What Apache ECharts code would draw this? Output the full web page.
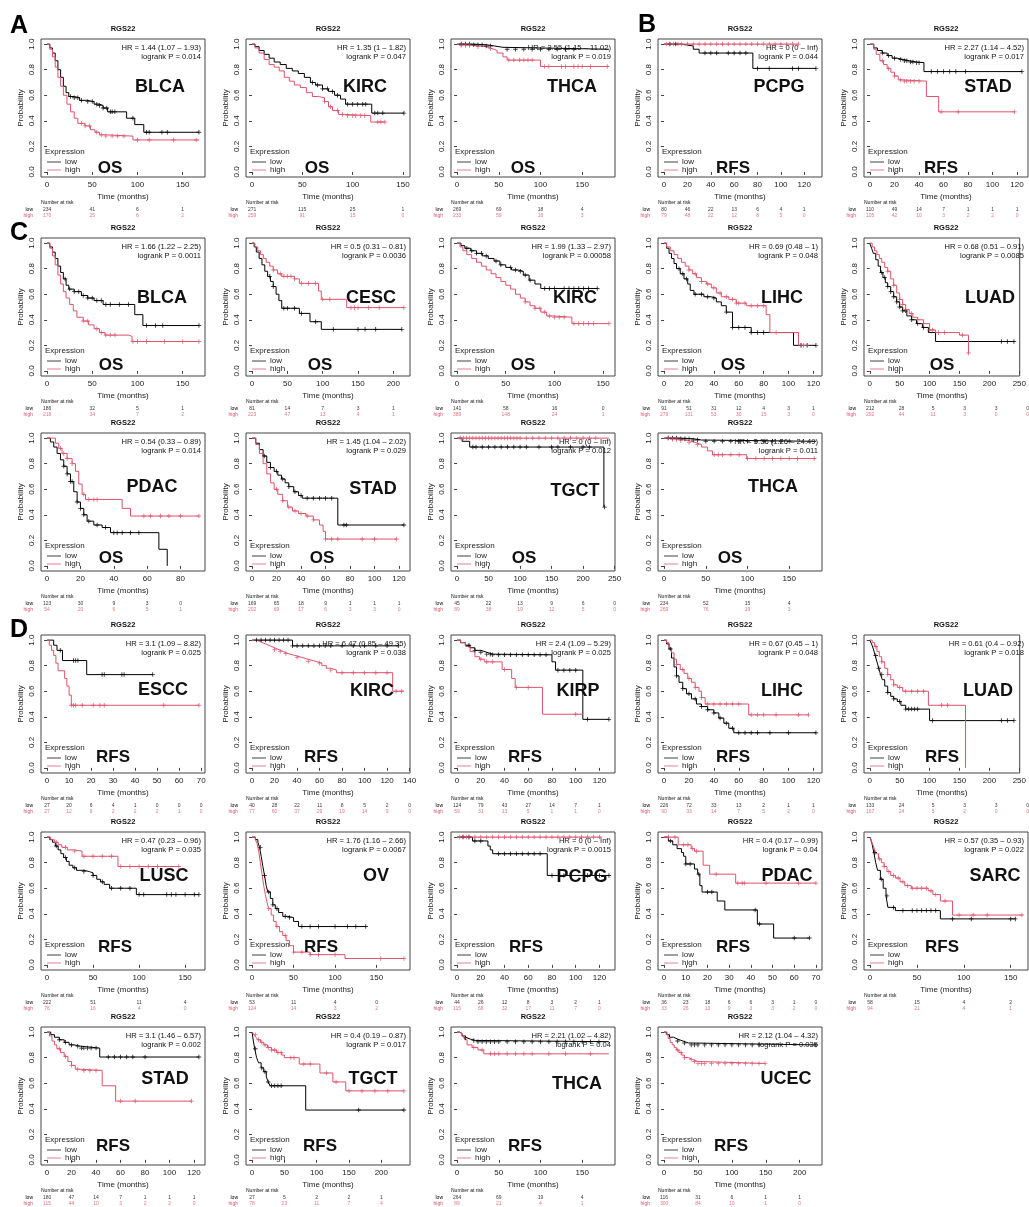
<!DOCTYPE html>
<html><head><meta charset="utf-8">
<script src="https://cdn.jsdelivr.net/npm/echarts@6/dist/echarts.min.js"></script>
<style>html,body{margin:0;padding:0;background:#fff}#c{width:1029px;height:1207px}</style>
</head><body><div id="c"></div>
<script>
// ---------------- DATA ----------------
const Y_TICKS = [0, 0.2, 0.4, 0.6, 0.8, 1.0];

// A BLCA OS
const A_BLCA_ticks=[0,50,100,150];
const A_BLCA_low=[[0,1],[3,0.97],[6,0.93],[9,0.87],[12,0.8],[15,0.74],[18,0.67],[21,0.62],[24,0.59],[30,0.58],[36,0.56],[44,0.55],[52,0.53],[58,0.52],[62,0.5],[67,0.47],[88,0.42],[97,0.37],[107,0.31],[168,0.31]];
const A_BLCA_high=[[0,1],[3,0.96],[6,0.9],[9,0.82],[12,0.74],[15,0.67],[18,0.6],[22,0.53],[26,0.47],[30,0.42],[34,0.38],[42,0.36],[48,0.33],[53,0.31],[58,0.29],[65,0.28],[95,0.25],[168,0.25]];
const A_BLCA_lowCens=[26,30,34,38,45,50,55,58,62,66,70,72,75,95,110,113,127,133,168];
const A_BLCA_highCens=[38,42,47,55,60,65,72,78,85,100,113,140,165];
const A_BLCA_riskLow=[234,41,6,1];
const A_BLCA_riskHigh=[170,25,6,2];
const A_BLCA_stats=['HR = 1.44 (1.07 – 1.93)','logrank P = 0.014'];

// A KIRC OS
const A_KIRC_ticks=[0,50,100,150];
const A_KIRC_low=[[0,1],[3,0.98],[7,0.95],[12,0.92],[17,0.89],[22,0.86],[28,0.84],[34,0.81],[40,0.79],[46,0.77],[52,0.74],[58,0.7],[63,0.68],[70,0.65],[76,0.63],[82,0.6],[88,0.57],[93,0.53],[119,0.46],[151,0.46]];
const A_KIRC_high=[[0,1],[3,0.97],[7,0.93],[12,0.88],[17,0.84],[22,0.82],[27,0.79],[32,0.74],[37,0.71],[42,0.68],[48,0.66],[54,0.62],[60,0.59],[66,0.58],[72,0.55],[76,0.51],[80,0.48],[86,0.45],[92,0.44],[118,0.39],[132,0.39]];
const A_KIRC_lowCens=[60,65,70,75,80,85,95,100,105,110,113,122,125,130,151];
const A_KIRC_highCens=[72,78,85,90,95,100,103,108,112,125,128,132];
const A_KIRC_riskLow=[271,115,25,1];
const A_KIRC_riskHigh=[259,91,15,0];
const A_KIRC_stats=['HR = 1.35 (1 – 1.82)','logrank P = 0.047'];

// A THCA OS
const A_THCA_ticks=[0,50,100,150];
const A_THCA_low=[[0,1],[20,0.995],[35,0.985],[45,0.975],[55,0.96],[182,0.96]];
const A_THCA_high=[[0,1],[5,0.99],[20,0.98],[35,0.965],[42,0.95],[48,0.93],[55,0.9],[60,0.875],[100,0.825],[182,0.825]];
const A_THCA_lowCens=[5,10,15,20,25,30,35,40,60,70,80,90,100,110,120,130,140];
const A_THCA_highCens=[5,10,15,25,40,62,68,75,80,85,90,105,110,125,130,140,145,150,160,180];
const A_THCA_riskLow=[269,69,18,4];
const A_THCA_riskHigh=[233,59,16,3];
const A_THCA_stats=['HR = 3.55 (1.15 – 11.02)','logrank P = 0.019'];

// B PCPG RFS
const B_PCPG_ticks=[0,20,40,60,80,100,120];
const B_PCPG_low=[[0,1],[15,0.985],[25,0.96],[30,0.93],[76,0.81],[130,0.81]];
const B_PCPG_high=[[0,1],[115,1]];
const B_PCPG_lowCens=[5,10,35,40,45,55,60,65,70,80,90,110,115,130];
const B_PCPG_highCens=[2,5,8,12,15,20,25,30,35,40,45,50,55,60,65,70,75,80,85,90,95,100,105,110,115];
const B_PCPG_riskLow=[80,46,22,13,6,4,1];
const B_PCPG_riskHigh=[79,48,22,12,8,5,0];
const B_PCPG_stats=['HR = 0 (0 – Inf)','logrank P = 0.044'];

// B STAD RFS
const B_STAD_ticks=[0,20,40,60,80,100,120];
const B_STAD_low=[[0,1],[3,0.97],[6,0.95],[10,0.93],[14,0.91],[18,0.89],[22,0.88],[27,0.87],[32,0.86],[38,0.855],[44,0.785],[124,0.785]];
const B_STAD_high=[[0,1],[3,0.96],[5,0.92],[8,0.87],[11,0.84],[14,0.81],[17,0.78],[20,0.75],[23,0.72],[26,0.71],[46,0.59],[56,0.47],[118,0.47]];
const B_STAD_lowCens=[10,15,20,25,28,30,33,35,38,40,50,55,60,65,70,78,124];
const B_STAD_highCens=[10,15,20,25,28,30,33,36,40,58,72,118];
const B_STAD_riskLow=[110,49,14,7,1,1,1];
const B_STAD_riskHigh=[105,42,10,3,2,2,0];
const B_STAD_stats=['HR = 2.27 (1.14 – 4.52)','logrank P = 0.017'];

// C BLCA OS
const C_BLCA_ticks=[0,50,100,150];
const C_BLCA_low=[[0,1],[3,0.97],[6,0.93],[9,0.88],[12,0.82],[15,0.77],[18,0.72],[21,0.67],[24,0.64],[30,0.62],[38,0.59],[45,0.57],[52,0.55],[62,0.52],[97,0.44],[106,0.355],[168,0.355]];
const C_BLCA_high=[[0,1],[3,0.96],[6,0.9],[9,0.83],[12,0.75],[15,0.68],[18,0.62],[21,0.57],[25,0.52],[29,0.47],[33,0.42],[40,0.39],[46,0.36],[52,0.33],[58,0.3],[64,0.28],[90,0.27],[94,0.23],[168,0.23]];
const C_BLCA_lowCens=[20,25,30,35,40,45,50,55,60,65,70,80,90,110,120,128,168];
const C_BLCA_highCens=[40,45,55,60,65,70,75,95,100,110,130,150,168];
const C_BLCA_riskLow=[186,32,5,1];
const C_BLCA_riskHigh=[218,34,7,2];
const C_BLCA_stats=['HR = 1.66 (1.22 – 2.25)','logrank P = 0.0011'];

// C CESC OS
const C_CESC_ticks=[0,50,100,150,200];
const C_CESC_low=[[0,1],[3,0.97],[6,0.93],[10,0.88],[14,0.83],[18,0.78],[22,0.74],[26,0.7],[30,0.66],[34,0.6],[38,0.55],[42,0.49],[67,0.45],[82,0.385],[98,0.325],[212,0.325]];
const C_CESC_high=[[0,1],[4,0.97],[8,0.94],[12,0.91],[16,0.88],[20,0.85],[25,0.82],[30,0.79],[36,0.76],[42,0.74],[60,0.72],[67,0.685],[94,0.625],[98,0.56],[134,0.495],[215,0.495]];
const C_CESC_lowCens=[25,30,45,50,60,70,90,115,150,160,175,212];
const C_CESC_highCens=[30,40,45,50,55,60,70,80,90,100,110,140,145,150,165,180,215];
const C_CESC_riskLow=[81,14,7,3,1];
const C_CESC_riskHigh=[223,47,13,4,1];
const C_CESC_stats=['HR = 0.5 (0.31 – 0.81)','logrank P = 0.0036'];

// C KIRC OS
const C_KIRC_ticks=[0,50,100,150];
const C_KIRC_low=[[0,1],[4,0.98],[8,0.96],[14,0.94],[20,0.92],[26,0.9],[32,0.88],[38,0.86],[44,0.83],[50,0.81],[56,0.79],[62,0.78],[68,0.75],[74,0.71],[80,0.68],[86,0.645],[144,0.645]];
const C_KIRC_high=[[0,1],[3,0.97],[6,0.94],[10,0.91],[15,0.88],[20,0.85],[25,0.82],[30,0.79],[35,0.76],[40,0.73],[45,0.7],[50,0.67],[55,0.64],[60,0.6],[65,0.57],[70,0.54],[75,0.51],[80,0.49],[86,0.46],[92,0.43],[98,0.42],[118,0.37],[156,0.37]];
const C_KIRC_lowCens=[10,15,20,25,30,40,45,55,60,65,70,75,90,95,100,110,115,120,125,130,135,144];
const C_KIRC_highCens=[70,80,85,90,95,100,105,110,120,125,130,135,140,156];
const C_KIRC_riskLow=[141,58,16,0];
const C_KIRC_riskHigh=[389,148,24,1];
const C_KIRC_stats=['HR = 1.99 (1.33 – 2.97)','logrank P = 0.00058'];

// C LIHC OS
const C_LIHC_ticks=[0,20,40,60,80,100,120];
const C_LIHC_low=[[0,1],[2,0.96],[4,0.92],[6,0.88],[8,0.84],[10,0.8],[13,0.76],[16,0.72],[19,0.68],[21,0.63],[24,0.6],[32,0.58],[38,0.57],[42,0.54],[46,0.51],[50,0.46],[55,0.34],[70,0.3],[104,0.2],[122,0.2]];
const C_LIHC_high=[[0,1],[2,0.97],[5,0.94],[8,0.91],[11,0.88],[14,0.85],[17,0.82],[20,0.79],[23,0.76],[26,0.73],[30,0.7],[34,0.68],[38,0.65],[42,0.61],[46,0.58],[52,0.56],[58,0.53],[66,0.51],[82,0.44],[85,0.3],[108,0.2],[115,0.2]];
const C_LIHC_lowCens=[12,15,18,25,30,35,40,50,55,60,65,70,75,80,110,115,122];
const C_LIHC_highCens=[20,25,30,35,40,45,50,55,58,60,65,70,75,80,90,110,112,115];
const C_LIHC_riskLow=[91,51,31,12,4,3,1];
const C_LIHC_riskHigh=[279,131,53,30,15,3,0];
const C_LIHC_stats=['HR = 0.69 (0.48 – 1)','logrank P = 0.048'];

// C LUAD OS
const C_LUAD_ticks=[0,50,100,150,200,250];
const C_LUAD_low=[[0,1],[3,0.96],[6,0.92],[10,0.87],[14,0.82],[18,0.77],[22,0.73],[26,0.69],[30,0.66],[35,0.62],[40,0.58],[45,0.54],[50,0.5],[55,0.47],[62,0.43],[70,0.4],[78,0.37],[88,0.34],[98,0.3],[110,0.23],[241,0.23]];
const C_LUAD_high=[[0,1],[4,0.97],[8,0.94],[12,0.91],[16,0.88],[20,0.85],[25,0.81],[30,0.78],[35,0.72],[40,0.67],[45,0.61],[50,0.56],[55,0.52],[60,0.48],[66,0.45],[72,0.42],[80,0.4],[90,0.37],[100,0.32],[110,0.3],[150,0.28],[165,0.14]];
const C_LUAD_lowCens=[20,25,30,35,40,45,50,55,60,70,80,90,220,230,241];
const C_LUAD_highCens=[30,40,50,55,60,70,80,90,100,105,115,125,155,165];
const C_LUAD_riskLow=[212,28,5,3,3,0];
const C_LUAD_riskHigh=[292,44,11,3,0,0];
const C_LUAD_stats=['HR = 0.68 (0.51 – 0.91)','logrank P = 0.0085'];

// C PDAC OS
const C_PDAC_ticks=[0,20,40,60,80];
const C_PDAC_low=[[0,1],[2,0.97],[4,0.93],[6,0.88],[8,0.83],[10,0.78],[12,0.72],[14,0.66],[16,0.58],[18,0.5],[20,0.45],[22,0.4],[24,0.35],[28,0.32],[33,0.3],[38,0.26],[67,0.13],[72,0]];
const C_PDAC_high=[[0,1],[5,0.96],[7,0.92],[9,0.88],[12,0.84],[15,0.8],[17,0.74],[19,0.64],[21,0.56],[23,0.52],[45,0.45],[50,0.39],[91,0.39]];
const C_PDAC_lowCens=[10,12,14,15,18,20,22,25,30,35,40,42,45,50,55];
const C_PDAC_highCens=[8,10,12,15,22,25,28,30,58,62,68,73,80,91];
const C_PDAC_riskLow=[123,30,9,3,0];
const C_PDAC_riskHigh=[54,20,6,5,1];
const C_PDAC_stats=['HR = 0.54 (0.33 – 0.89)','logrank P = 0.014'];

// C STAD OS
const C_STAD_ticks=[0,20,40,60,80,100,120];
const C_STAD_low=[[0,1],[3,0.96],[6,0.91],[9,0.86],[12,0.81],[15,0.77],[18,0.74],[21,0.71],[24,0.68],[27,0.65],[30,0.62],[34,0.58],[38,0.55],[41,0.53],[70,0.32],[124,0.32]];
const C_STAD_high=[[0,1],[3,0.95],[6,0.88],[9,0.8],[12,0.72],[15,0.65],[18,0.6],[21,0.56],[25,0.51],[29,0.46],[33,0.43],[38,0.41],[44,0.39],[50,0.36],[55,0.32],[58,0.27],[60,0.21],[118,0.21]];
const C_STAD_lowCens=[10,15,20,25,30,35,40,45,50,55,60,65,75,77,124];
const C_STAD_highCens=[20,25,30,35,40,45,50,60,65,70,90,100,118];
const C_STAD_riskLow=[169,65,18,9,1,1,1];
const C_STAD_riskHigh=[202,69,17,6,3,3,0];
const C_STAD_stats=['HR = 1.45 (1.04 – 2.02)','logrank P = 0.029'];

// C TGCT OS
const C_TGCT_ticks=[0,50,100,150,200,250];
const C_TGCT_low=[[0,1],[8,0.975],[20,0.93],[233,0.46]];
const C_TGCT_high=[[0,1],[241,1]];
const C_TGCT_lowCens=[25,30,40,50,60,70,80,90,100,110,130,150,160,180,200,210,234];
const C_TGCT_highCens=[5,10,15,20,25,30,35,40,45,50,55,60,65,70,75,80,85,90,95,100,110,120,130,140,150,160,170,180,190,200,210,220];
const C_TGCT_riskLow=[45,22,13,9,6,0];
const C_TGCT_riskHigh=[89,38,19,12,5,0];
const C_TGCT_stats=['HR = 0 (0 – Inf)','logrank P = 0.012'];

// C THCA OS
const C_THCA_ticks=[0,50,100,150];
const C_THCA_low=[[0,1],[20,0.995],[35,0.985],[45,0.975],[182,0.975]];
const C_THCA_high=[[0,1],[8,0.99],[20,0.98],[30,0.965],[38,0.95],[45,0.93],[52,0.9],[58,0.87],[99,0.84],[182,0.84]];
const C_THCA_lowCens=[5,10,15,20,25,30,35,40,50,60,70,80,90,100,110,120,130,140,150];
const C_THCA_highCens=[5,10,15,20,30,40,60,65,70,80,90,100,110,120,130,140,150,160,180];
const C_THCA_riskLow=[234,52,15,4];
const C_THCA_riskHigh=[269,76,19,3];
const C_THCA_stats=['HR = 5.56 (1.26 – 24.49)','logrank P = 0.011'];

// D ESCC RFS
const D_ESCC_ticks=[0,10,20,30,40,50,60,70];
const D_ESCC_low=[[0,1],[3,0.96],[4.5,0.92],[7,0.84],[18,0.73],[48,0.73]];
const D_ESCC_high=[[0,1],[1,0.96],[2,0.92],[3,0.88],[4,0.82],[5,0.76],[8,0.7],[9,0.64],[10,0.57],[11,0.49],[69,0.49]];
const D_ESCC_lowCens=[6,12,13,14,25,26,34,35,48];
const D_ESCC_highCens=[11,12,13,16,21,24,26,53,69];
const D_ESCC_riskLow=[27,20,6,4,1,0,0,0];
const D_ESCC_riskHigh=[27,12,6,2,2,2,1,0];
const D_ESCC_stats=['HR = 3.1 (1.09 – 8.82)','logrank P = 0.025'];

// D KIRC RFS
const D_KIRC_ticks=[0,20,40,60,80,100,120,140];
const D_KIRC_low=[[0,1],[36,0.955],[130,0.955]];
const D_KIRC_high=[[0,1],[4,0.985],[8,0.97],[12,0.955],[16,0.94],[20,0.925],[24,0.91],[28,0.895],[32,0.88],[38,0.865],[44,0.85],[50,0.835],[56,0.82],[62,0.8],[66,0.78],[70,0.765],[75,0.745],[125,0.6],[135,0.6]];
const D_KIRC_lowCens=[4,8,12,16,20,24,28,32,36,40,45,50,55,60,65,70,80,90,100,110,120,130];
const D_KIRC_highCens=[20,25,30,40,50,60,70,80,90,100,110,120,128,133];
const D_KIRC_riskLow=[40,28,22,11,8,5,2,0];
const D_KIRC_riskHigh=[77,60,37,29,19,14,9,0];
const D_KIRC_stats=['HR = 6.47 (0.85 – 49.35)','logrank P = 0.038'];

// D KIRP RFS
const D_KIRP_ticks=[0,20,40,60,80,100,120];
const D_KIRP_low=[[0,1],[3,0.98],[7,0.96],[11,0.94],[15,0.92],[20,0.905],[25,0.89],[30,0.885],[80,0.83],[83,0.765],[106,0.38],[128,0.38]];
const D_KIRP_high=[[0,1],[3,0.98],[7,0.95],[11,0.91],[15,0.87],[19,0.85],[23,0.83],[38,0.77],[46,0.7],[49,0.63],[72,0.42],[106,0.42]];
const D_KIRP_lowCens=[10,15,20,25,28,30,35,40,45,50,55,60,65,70,75,85,90,95,100,110,128];
const D_KIRP_highCens=[20,25,30,40,50,60,100];
const D_KIRP_riskLow=[124,79,43,27,14,7,1];
const D_KIRP_riskHigh=[59,31,13,5,1,1,0];
const D_KIRP_stats=['HR = 2.4 (1.09 – 5.29)','logrank P = 0.025'];

// D LIHC RFS
const D_LIHC_ticks=[0,20,40,60,80,100,120];
const D_LIHC_low=[[0,1],[2,0.97],[4,0.93],[6,0.86],[8,0.79],[10,0.72],[12,0.67],[15,0.62],[18,0.58],[22,0.54],[26,0.5],[30,0.48],[35,0.455],[40,0.43],[44,0.39],[48,0.35],[52,0.31],[56,0.275],[122,0.275]];
const D_LIHC_high=[[0,1],[2,0.98],[4,0.94],[6,0.9],[8,0.85],[10,0.81],[13,0.77],[16,0.74],[19,0.7],[22,0.67],[25,0.63],[28,0.6],[30,0.55],[33,0.5],[68,0.415],[116,0.415]];
const D_LIHC_lowCens=[5,10,15,20,25,30,35,40,45,50,55,60,65,70,75,85,100,122];
const D_LIHC_highCens=[10,15,20,25,30,35,40,45,50,55,60,70,75,80,90,108,116];
const D_LIHC_riskLow=[226,72,33,13,2,1,1];
const D_LIHC_riskHigh=[90,33,14,7,5,2,0];
const D_LIHC_stats=['HR = 0.67 (0.45 – 1)','logrank P = 0.048'];

// D LUAD RFS
const D_LUAD_ticks=[0,50,100,150,200,250];
const D_LUAD_low=[[0,1],[3,0.97],[6,0.93],[9,0.88],[12,0.83],[15,0.78],[18,0.73],[21,0.69],[25,0.64],[30,0.59],[35,0.56],[40,0.54],[46,0.52],[52,0.49],[60,0.46],[100,0.37],[241,0.37]];
const D_LUAD_high=[[0,1],[4,0.98],[8,0.95],[12,0.91],[16,0.87],[20,0.83],[25,0.78],[30,0.73],[35,0.69],[40,0.65],[46,0.63],[55,0.6],[98,0.49],[160,0]];
const D_LUAD_lowCens=[10,15,20,30,40,50,60,65,70,75,80,105,220,230,241];
const D_LUAD_highCens=[10,20,30,40,50,60,70,80,90,120,130];
const D_LUAD_riskLow=[133,24,5,3,3,0];
const D_LUAD_riskHigh=[167,24,5,2,0,0];
const D_LUAD_stats=['HR = 0.61 (0.4 – 0.92)','logrank P = 0.018'];

// D LUSC RFS
const D_LUSC_ticks=[0,50,100,150];
const D_LUSC_low=[[0,1],[3,0.98],[6,0.96],[9,0.93],[12,0.9],[15,0.87],[18,0.84],[21,0.81],[24,0.78],[28,0.76],[32,0.74],[40,0.73],[46,0.72],[50,0.7],[54,0.67],[58,0.65],[62,0.63],[68,0.6],[97,0.55],[165,0.55]];
const D_LUSC_high=[[0,1],[4,0.98],[8,0.96],[12,0.94],[16,0.92],[22,0.9],[30,0.89],[38,0.85],[77,0.77],[143,0.77]];
const D_LUSC_lowCens=[10,20,30,40,50,60,70,80,90,100,105,130,135,140,150,160,165];
const D_LUSC_highCens=[10,20,30,40,50,60,70,80,90,100,110,120,143];
const D_LUSC_riskLow=[222,51,11,4];
const D_LUSC_riskHigh=[76,16,4,0];
const D_LUSC_stats=['HR = 0.47 (0.23 – 0.96)','logrank P = 0.035'];

// D OV RFS
const D_OV_ticks=[0,50,100,150];
const D_OV_low=[[0,1],[4,0.98],[7,0.96],[9,0.92],[11,0.85],[13,0.77],[15,0.7],[17,0.62],[19,0.57],[22,0.52],[25,0.47],[28,0.44],[32,0.41],[37,0.38],[43,0.37],[50,0.34],[56,0.3],[137,0.3]];
const D_OV_high=[[0,1],[4,0.98],[6,0.95],[8,0.89],[10,0.8],[12,0.71],[14,0.62],[16,0.55],[18,0.49],[20,0.44],[23,0.39],[26,0.34],[29,0.3],[33,0.26],[37,0.23],[41,0.19],[45,0.15],[50,0.1],[70,0.08],[112,0.05],[183,0.05]];
const D_OV_lowCens=[10,15,20,25,30,40,45,60,70,80,100,115,125,137];
const D_OV_highCens=[20,30,40,50,60,70,80,100,155,183];
const D_OV_riskLow=[53,11,4,0];
const D_OV_riskHigh=[124,14,3,2];
const D_OV_stats=['HR = 1.76 (1.16 – 2.66)','logrank P = 0.0067'];

// D PCPG RFS
const D_PCPG_ticks=[0,20,40,60,80,100,120];
const D_PCPG_low=[[0,1],[13,0.97],[26,0.93],[28,0.9],[30,0.87],[76,0.7],[128,0.7]];
const D_PCPG_high=[[0,1],[122,1]];
const D_PCPG_lowCens=[5,10,15,20,35,40,45,50,55,60,65,70,80,90,110,120,128];
const D_PCPG_highCens=[2,5,8,10,15,20,25,30,35,40,45,50,55,60,65,70,75,80,85,90,95,100,105,110,115,120];
const D_PCPG_riskLow=[44,26,12,8,3,2,1];
const D_PCPG_riskHigh=[115,68,32,17,11,7,0];
const D_PCPG_stats=['HR = 0 (0 – Inf)','logrank P = 0.0015'];

// D PDAC RFS
const D_PDAC_ticks=[0,10,20,30,40,50,60,70];
const D_PDAC_low=[[0,1],[2,0.97],[4,0.94],[6,0.91],[8,0.88],[9,0.85],[10,0.79],[14,0.75],[15.5,0.71],[16.5,0.62],[17.5,0.57],[24.5,0.5],[28,0.43],[43,0.32],[50.5,0.21],[67,0.21]];
const D_PDAC_high=[[0,1],[6.5,0.94],[12.5,0.91],[14,0.89],[18,0.78],[21,0.71],[33,0.64],[70,0.64]];
const D_PDAC_lowCens=[3,10,12,16,20,22,42,44,60,67];
const D_PDAC_highCens=[2,5,9,11,13,15,24,34,36,37,47,62,70];
const D_PDAC_riskLow=[36,23,18,6,6,3,1,0];
const D_PDAC_riskHigh=[33,26,13,9,3,3,2,0];
const D_PDAC_stats=['HR = 0.4 (0.17 – 0.99)','logrank P = 0.04'];

// D SARC RFS
const D_SARC_ticks=[0,50,100,150];
const D_SARC_low=[[0,1],[2,0.95],[4,0.88],[6,0.8],[8,0.74],[11,0.67],[14,0.6],[17,0.54],[19,0.45],[27,0.425],[75,0.36],[155,0.36]];
const D_SARC_high=[[0,1],[2,0.96],[4,0.92],[6,0.87],[9,0.83],[12,0.8],[15,0.77],[18,0.73],[22,0.7],[27,0.68],[32,0.65],[37,0.62],[44,0.6],[62,0.58],[67,0.55],[75,0.5],[88,0.39],[162,0.39]];
const D_SARC_lowCens=[5,12,18,25,35,45,50,55,60,65,70,88,108,150,155];
const D_SARC_highCens=[10,15,20,25,30,35,40,45,50,55,60,65,70,80,95,110,125,162];
const D_SARC_riskLow=[58,15,4,2];
const D_SARC_riskHigh=[94,21,4,1];
const D_SARC_stats=['HR = 0.57 (0.35 – 0.93)','logrank P = 0.022'];

// D STAD RFS
const D_STAD_ticks=[0,20,40,60,80,100,120];
const D_STAD_low=[[0,1],[3,0.98],[6,0.96],[10,0.94],[14,0.92],[18,0.9],[22,0.89],[27,0.875],[43,0.805],[124,0.805]];
const D_STAD_high=[[0,1],[2,0.97],[4,0.93],[6,0.9],[8,0.87],[11,0.84],[14,0.81],[17,0.77],[20,0.74],[23,0.71],[26,0.7],[45,0.58],[56,0.46],[118,0.46]];
const D_STAD_lowCens=[10,15,20,25,28,30,33,36,40,50,55,60,65,70,80,124];
const D_STAD_highCens=[10,15,20,25,30,35,40,60,72,118];
const D_STAD_riskLow=[180,47,14,7,1,1,1];
const D_STAD_riskHigh=[115,44,10,3,2,2,0];
const D_STAD_stats=['HR = 3.1 (1.46 – 6.57)','logrank P = 0.002'];

// D TGCT RFS
const D_TGCT_ticks=[0,50,100,150,200];
const D_TGCT_low=[[0,1],[2,0.93],[4,0.87],[7,0.8],[10,0.76],[14,0.72],[18,0.69],[22,0.65],[25,0.61],[28,0.58],[83,0.39],[235,0.39]];
const D_TGCT_high=[[0,1],[3,0.98],[6,0.96],[9,0.94],[13,0.92],[18,0.9],[24,0.88],[30,0.86],[38,0.84],[46,0.82],[50,0.8],[73,0.75],[105,0.68],[125,0.61],[145,0.54],[235,0.54]];
const D_TGCT_lowCens=[5,15,20,25,30,35,40,45,165,235];
const D_TGCT_highCens=[5,10,15,20,25,30,35,40,45,60,65,80,90,115,130,150,170,190,210,235];
const D_TGCT_riskLow=[27,5,2,2,1];
const D_TGCT_riskHigh=[78,23,11,7,4];
const D_TGCT_stats=['HR = 0.4 (0.19 – 0.87)','logrank P = 0.017'];

// D THCA RFS
const D_THCA_ticks=[0,50,100,150];
const D_THCA_low=[[0,1],[3,0.99],[6,0.97],[9,0.955],[12,0.945],[16,0.935],[22,0.925],[182,0.925]];
const D_THCA_high=[[0,1],[3,0.985],[6,0.965],[9,0.94],[12,0.9],[18,0.88],[25,0.86],[32,0.83],[182,0.83]];
const D_THCA_lowCens=[10,20,25,30,35,40,45,50,60,70,80,90,100,110,120,130,140,150,160,170];
const D_THCA_highCens=[20,30,40,45,50,60,70,80,90,110,130,160];
const D_THCA_riskLow=[264,69,19,4];
const D_THCA_riskHigh=[89,21,4,1];
const D_THCA_stats=['HR = 2.21 (1.02 – 4.82)','logrank P = 0.04'];

// D UCEC RFS
const D_UCEC_ticks=[0,50,100,150,200];
const D_UCEC_low=[[0,1],[4,0.98],[8,0.96],[14,0.945],[20,0.93],[28,0.915],[36,0.9],[224,0.9]];
const D_UCEC_high=[[0,1],[3,0.98],[6,0.95],[9,0.92],[12,0.9],[15,0.88],[18,0.86],[22,0.84],[26,0.82],[30,0.8],[36,0.785],[42,0.77],[50,0.755],[149,0.755]];
const D_UCEC_lowCens=[20,30,40,45,50,60,70,80,90,100,110,120,130,140,224];
const D_UCEC_highCens=[20,25,30,40,45,50,55,60,70,80,90,100,110,120,130,140,149];
const D_UCEC_riskLow=[116,31,6,1,1];
const D_UCEC_riskHigh=[300,84,10,1,0];
const D_UCEC_stats=['HR = 2.12 (1.04 – 4.32)','logrank P = 0.035'];

// ---------------- PANEL LIST (references + grid slot) ----------------
const PANELS = [
 {row:0,col:0,name:'BLCA',ep:'OS', low:A_BLCA_low,high:A_BLCA_high,lowC:A_BLCA_lowCens,highC:A_BLCA_highCens,ticks:A_BLCA_ticks,rLow:A_BLCA_riskLow,rHigh:A_BLCA_riskHigh,stats:A_BLCA_stats},
 {row:0,col:1,name:'KIRC',ep:'OS', low:A_KIRC_low,high:A_KIRC_high,lowC:A_KIRC_lowCens,highC:A_KIRC_highCens,ticks:A_KIRC_ticks,rLow:A_KIRC_riskLow,rHigh:A_KIRC_riskHigh,stats:A_KIRC_stats},
 {row:0,col:2,name:'THCA',ep:'OS', low:A_THCA_low,high:A_THCA_high,lowC:A_THCA_lowCens,highC:A_THCA_highCens,ticks:A_THCA_ticks,rLow:A_THCA_riskLow,rHigh:A_THCA_riskHigh,stats:A_THCA_stats},
 {row:0,col:3,name:'PCPG',ep:'RFS',low:B_PCPG_low,high:B_PCPG_high,lowC:B_PCPG_lowCens,highC:B_PCPG_highCens,ticks:B_PCPG_ticks,rLow:B_PCPG_riskLow,rHigh:B_PCPG_riskHigh,stats:B_PCPG_stats},
 {row:0,col:4,name:'STAD',ep:'RFS',low:B_STAD_low,high:B_STAD_high,lowC:B_STAD_lowCens,highC:B_STAD_highCens,ticks:B_STAD_ticks,rLow:B_STAD_riskLow,rHigh:B_STAD_riskHigh,stats:B_STAD_stats},
 {row:1,col:0,name:'BLCA',ep:'OS', low:C_BLCA_low,high:C_BLCA_high,lowC:C_BLCA_lowCens,highC:C_BLCA_highCens,ticks:C_BLCA_ticks,rLow:C_BLCA_riskLow,rHigh:C_BLCA_riskHigh,stats:C_BLCA_stats},
 {row:1,col:1,name:'CESC',ep:'OS', low:C_CESC_low,high:C_CESC_high,lowC:C_CESC_lowCens,highC:C_CESC_highCens,ticks:C_CESC_ticks,rLow:C_CESC_riskLow,rHigh:C_CESC_riskHigh,stats:C_CESC_stats},
 {row:1,col:2,name:'KIRC',ep:'OS', low:C_KIRC_low,high:C_KIRC_high,lowC:C_KIRC_lowCens,highC:C_KIRC_highCens,ticks:C_KIRC_ticks,rLow:C_KIRC_riskLow,rHigh:C_KIRC_riskHigh,stats:C_KIRC_stats},
 {row:1,col:3,name:'LIHC',ep:'OS', low:C_LIHC_low,high:C_LIHC_high,lowC:C_LIHC_lowCens,highC:C_LIHC_highCens,ticks:C_LIHC_ticks,rLow:C_LIHC_riskLow,rHigh:C_LIHC_riskHigh,stats:C_LIHC_stats},
 {row:1,col:4,name:'LUAD',ep:'OS', low:C_LUAD_low,high:C_LUAD_high,lowC:C_LUAD_lowCens,highC:C_LUAD_highCens,ticks:C_LUAD_ticks,rLow:C_LUAD_riskLow,rHigh:C_LUAD_riskHigh,stats:C_LUAD_stats},
 {row:2,col:0,name:'PDAC',ep:'OS', low:C_PDAC_low,high:C_PDAC_high,lowC:C_PDAC_lowCens,highC:C_PDAC_highCens,ticks:C_PDAC_ticks,rLow:C_PDAC_riskLow,rHigh:C_PDAC_riskHigh,stats:C_PDAC_stats},
 {row:2,col:1,name:'STAD',ep:'OS', low:C_STAD_low,high:C_STAD_high,lowC:C_STAD_lowCens,highC:C_STAD_highCens,ticks:C_STAD_ticks,rLow:C_STAD_riskLow,rHigh:C_STAD_riskHigh,stats:C_STAD_stats},
 {row:2,col:2,name:'TGCT',ep:'OS', low:C_TGCT_low,high:C_TGCT_high,lowC:C_TGCT_lowCens,highC:C_TGCT_highCens,ticks:C_TGCT_ticks,rLow:C_TGCT_riskLow,rHigh:C_TGCT_riskHigh,stats:C_TGCT_stats},
 {row:2,col:3,name:'THCA',ep:'OS', low:C_THCA_low,high:C_THCA_high,lowC:C_THCA_lowCens,highC:C_THCA_highCens,ticks:C_THCA_ticks,rLow:C_THCA_riskLow,rHigh:C_THCA_riskHigh,stats:C_THCA_stats},
 {row:3,col:0,name:'ESCC',ep:'RFS',low:D_ESCC_low,high:D_ESCC_high,lowC:D_ESCC_lowCens,highC:D_ESCC_highCens,ticks:D_ESCC_ticks,rLow:D_ESCC_riskLow,rHigh:D_ESCC_riskHigh,stats:D_ESCC_stats},
 {row:3,col:1,name:'KIRC',ep:'RFS',low:D_KIRC_low,high:D_KIRC_high,lowC:D_KIRC_lowCens,highC:D_KIRC_highCens,ticks:D_KIRC_ticks,rLow:D_KIRC_riskLow,rHigh:D_KIRC_riskHigh,stats:D_KIRC_stats},
 {row:3,col:2,name:'KIRP',ep:'RFS',low:D_KIRP_low,high:D_KIRP_high,lowC:D_KIRP_lowCens,highC:D_KIRP_highCens,ticks:D_KIRP_ticks,rLow:D_KIRP_riskLow,rHigh:D_KIRP_riskHigh,stats:D_KIRP_stats},
 {row:3,col:3,name:'LIHC',ep:'RFS',low:D_LIHC_low,high:D_LIHC_high,lowC:D_LIHC_lowCens,highC:D_LIHC_highCens,ticks:D_LIHC_ticks,rLow:D_LIHC_riskLow,rHigh:D_LIHC_riskHigh,stats:D_LIHC_stats},
 {row:3,col:4,name:'LUAD',ep:'RFS',low:D_LUAD_low,high:D_LUAD_high,lowC:D_LUAD_lowCens,highC:D_LUAD_highCens,ticks:D_LUAD_ticks,rLow:D_LUAD_riskLow,rHigh:D_LUAD_riskHigh,stats:D_LUAD_stats},
 {row:4,col:0,name:'LUSC',ep:'RFS',low:D_LUSC_low,high:D_LUSC_high,lowC:D_LUSC_lowCens,highC:D_LUSC_highCens,ticks:D_LUSC_ticks,rLow:D_LUSC_riskLow,rHigh:D_LUSC_riskHigh,stats:D_LUSC_stats},
 {row:4,col:1,name:'OV',  ep:'RFS',low:D_OV_low,high:D_OV_high,lowC:D_OV_lowCens,highC:D_OV_highCens,ticks:D_OV_ticks,rLow:D_OV_riskLow,rHigh:D_OV_riskHigh,stats:D_OV_stats},
 {row:4,col:2,name:'PCPG',ep:'RFS',low:D_PCPG_low,high:D_PCPG_high,lowC:D_PCPG_lowCens,highC:D_PCPG_highCens,ticks:D_PCPG_ticks,rLow:D_PCPG_riskLow,rHigh:D_PCPG_riskHigh,stats:D_PCPG_stats},
 {row:4,col:3,name:'PDAC',ep:'RFS',low:D_PDAC_low,high:D_PDAC_high,lowC:D_PDAC_lowCens,highC:D_PDAC_highCens,ticks:D_PDAC_ticks,rLow:D_PDAC_riskLow,rHigh:D_PDAC_riskHigh,stats:D_PDAC_stats},
 {row:4,col:4,name:'SARC',ep:'RFS',low:D_SARC_low,high:D_SARC_high,lowC:D_SARC_lowCens,highC:D_SARC_highCens,ticks:D_SARC_ticks,rLow:D_SARC_riskLow,rHigh:D_SARC_riskHigh,stats:D_SARC_stats},
 {row:5,col:0,name:'STAD',ep:'RFS',low:D_STAD_low,high:D_STAD_high,lowC:D_STAD_lowCens,highC:D_STAD_highCens,ticks:D_STAD_ticks,rLow:D_STAD_riskLow,rHigh:D_STAD_riskHigh,stats:D_STAD_stats},
 {row:5,col:1,name:'TGCT',ep:'RFS',low:D_TGCT_low,high:D_TGCT_high,lowC:D_TGCT_lowCens,highC:D_TGCT_highCens,ticks:D_TGCT_ticks,rLow:D_TGCT_riskLow,rHigh:D_TGCT_riskHigh,stats:D_TGCT_stats},
 {row:5,col:2,name:'THCA',ep:'RFS',low:D_THCA_low,high:D_THCA_high,lowC:D_THCA_lowCens,highC:D_THCA_highCens,ticks:D_THCA_ticks,rLow:D_THCA_riskLow,rHigh:D_THCA_riskHigh,stats:D_THCA_stats},
 {row:5,col:3,name:'UCEC',ep:'RFS',low:D_UCEC_low,high:D_UCEC_high,lowC:D_UCEC_lowCens,highC:D_UCEC_highCens,ticks:D_UCEC_ticks,rLow:D_UCEC_riskLow,rHigh:D_UCEC_riskHigh,stats:D_UCEC_stats}
];

// ---------------- LAYOUT (pixels, styles) ----------------
const COL_LEFT = [41, 246, 451, 658, 864];
const ROW_T = [29, 228, 423, 625, 822, 1017];
const BOX_W = 164, BOX_H = 138;
// per panel: [label dx, label dy, endpoint dx, endpoint dy]
const LABEL_POS = [
 [119,58,69,139],[119,58,71,139],[121,58,72,139],[121,58,75,139],[124,58,77,139],
 [121,70,70,137],[125,70,74,137],[124,70,72,137],[124,70,75,137],[126,70,78,137],
 [111,64,70,135],[127,66,76,135],[124,68,73,135],[115,64,72,135],
 [122,65,72,132],[126,66,75,132],[127,66,74,132],[124,66,75,132],[124,66,78,132],
 [123,54,74,125],[130,54,75,125],[131,55,75,125],[129,54,75,125],[131,54,78,125],
 [124,62,72,129],[127,62,74,129],[126,67,74,129],[128,62,73,129]
];
const LETTERS = [['A',19,26],['B',647,25],['C',19,233],['D',19,630]];
const RED = '#DF536B';
const FONT = '"Liberation Sans", Arial, Helvetica, sans-serif';
const PLUS = 'path://M2,0H3V2H5V3H3V5H2V3H0V2H2Z';

function stepAt(curve, t){ let s = curve[0][1]; for (const d of curve){ if (d[0] <= t) s = d[1]; else break; } return s; }
function txt(x, y, text, size, opts){
  opts = opts || {};
  const align = opts.align || 'center', va = opts.va || 'middle';
  return {type:'text', x:x, y:y, silent:true, z:50, style:{
    text:text, fontSize:size, fontWeight:opts.bold?'bold':'normal', fontFamily:FONT,
    fill:opts.color||'#111', align:align, textAlign:align, verticalAlign:va, textVerticalAlign:va }};
}

const grids=[], xAxes=[], yAxes=[], series=[], graphics=[];

LETTERS.forEach(l => graphics.push(txt(l[1], l[2], l[0], 25, {bold:true, color:'#000'})));

PANELS.forEach((p, i) => {
  const L = COL_LEFT[p.col], T = ROW_T[p.row], lp = LABEL_POS[i];
  const R = Math.max(...p.low.map(d=>d[0]), ...p.high.map(d=>d[0]), ...p.lowC, ...p.highC);
  const xmin = -0.04*R, xmax = 1.04*R;
  const gi = grids.length;
  grids.push({left:L, top:T+10, width:BOX_W, height:BOX_H, show:true, borderColor:'#444', borderWidth:1, backgroundColor:'rgba(0,0,0,0)'});
  xAxes.push({gridIndex:gi, type:'value', min:xmin, max:xmax,
    axisLine:{show:false}, splitLine:{show:false},
    axisTick:{show:true, customValues:p.ticks, length:3, lineStyle:{color:'#444'}},
    axisLabel:{customValues:p.ticks, formatter:v=>String(Math.round(v)), fontSize:8, color:'#222', margin:3.5, fontFamily:FONT},
    name:'Time (months)', nameLocation:'middle', nameGap:16, nameMoveOverlap:false,
    nameTextStyle:{fontSize:8, color:'#222', fontFamily:FONT}});
  yAxes.push({gridIndex:gi, type:'value', min:-0.04, max:1.04,
    axisLine:{show:false}, splitLine:{show:false},
    axisTick:{show:true, customValues:Y_TICKS, length:3, lineStyle:{color:'#444'}},
    axisLabel:{customValues:Y_TICKS, formatter:v=>v.toFixed(1), rotate:90, fontSize:8, color:'#222', margin:5, fontFamily:FONT},
    name:'Probability', nameLocation:'middle', nameGap:16, nameMoveOverlap:false,
    nameTextStyle:{fontSize:8, color:'#222', fontFamily:FONT}});
  series.push({type:'line', step:'end', xAxisIndex:gi, yAxisIndex:gi, data:p.low, symbol:'none', silent:true,
    lineStyle:{color:'#000', width:1}, z:3});
  series.push({type:'line', step:'end', xAxisIndex:gi, yAxisIndex:gi, data:p.high, symbol:'none', silent:true,
    lineStyle:{color:RED, width:1}, z:4});
  series.push({type:'scatter', xAxisIndex:gi, yAxisIndex:gi, data:p.lowC.map(c=>[c, stepAt(p.low, c)]), symbol:PLUS, symbolSize:4.5, silent:true,
    itemStyle:{color:'#000'}, z:5});
  series.push({type:'scatter', xAxisIndex:gi, yAxisIndex:gi, data:p.highC.map(c=>[c, stepAt(p.high, c)]), symbol:PLUS, symbolSize:4.5, silent:true,
    itemStyle:{color:RED}, z:6});

  // number-at-risk table
  const ri = grids.length;
  grids.push({left:L, top:T+178, width:BOX_W, height:12, show:false});
  xAxes.push({gridIndex:ri, type:'value', min:xmin, max:xmax, show:false});
  yAxes.push({gridIndex:ri, type:'category', data:['high','low'],
    axisLine:{show:false}, axisTick:{show:false}, splitLine:{show:false},
    axisLabel:{interval:0, hideOverlap:false, margin:8, fontSize:5, fontFamily:FONT,
      formatter:v => v==='low' ? '{l|low}' : '{h|high}',
      rich:{l:{color:'#000', fontSize:5, fontFamily:FONT}, h:{color:RED, fontSize:5, fontFamily:FONT}}}});
  series.push({type:'scatter', xAxisIndex:ri, yAxisIndex:ri, data:p.ticks.map((t,k)=>[t,'low',p.rLow[k]]),
    symbolSize:1, silent:true, itemStyle:{color:'rgba(0,0,0,0)'},
    label:{show:true, position:'inside', formatter:q=>String(q.value[2]), fontSize:5, color:'#000', fontFamily:FONT}});
  series.push({type:'scatter', xAxisIndex:ri, yAxisIndex:ri, data:p.ticks.map((t,k)=>[t,'high',p.rHigh[k]]),
    symbolSize:1, silent:true, itemStyle:{color:'rgba(0,0,0,0)'},
    label:{show:true, position:'inside', formatter:q=>String(q.value[2]), fontSize:5, color:RED, fontFamily:FONT}});

  // texts
  graphics.push(txt(L+BOX_W/2, T, 'RGS22', 7.5, {bold:true}));
  graphics.push(txt(L+BOX_W-4, T+19, p.stats[0], 7.6, {align:'right'}));
  graphics.push(txt(L+BOX_W-4, T+28, p.stats[1], 7.6, {align:'right'}));
  graphics.push(txt(L+lp[0], T+lp[1], p.name, 18, {bold:true, color:'#111'}));
  graphics.push(txt(L+lp[2], T+lp[3], p.ep, 17, {bold:true, color:'#111'}));
  graphics.push(txt(L+4, T+123, 'Expression', 8, {align:'left', color:'#222'}));
  graphics.push({type:'line', silent:true, z:50, shape:{x1:L+6, y1:T+133, x2:L+20, y2:T+133}, style:{stroke:'#000', lineWidth:1, opacity:0.75}});
  graphics.push(txt(L+24, T+133, 'low', 8, {align:'left', color:'#222'}));
  graphics.push({type:'line', silent:true, z:50, shape:{x1:L+6, y1:T+141, x2:L+20, y2:T+141}, style:{stroke:RED, lineWidth:1, opacity:0.75}});
  graphics.push(txt(L+24, T+141, 'high', 8, {align:'left', color:'#222'}));
  graphics.push(txt(L, T+174, 'Number at risk', 5, {align:'left', color:'#111'}));
});

const chart = echarts.init(document.getElementById('c'), null, {renderer:'canvas'});
chart.setOption({
  backgroundColor:'#fff',
  animation:false,
  textStyle:{fontFamily:FONT},
  grid:grids, xAxis:xAxes, yAxis:yAxes, series:series,
  graphic:{elements:graphics}
});
</script></body></html>
